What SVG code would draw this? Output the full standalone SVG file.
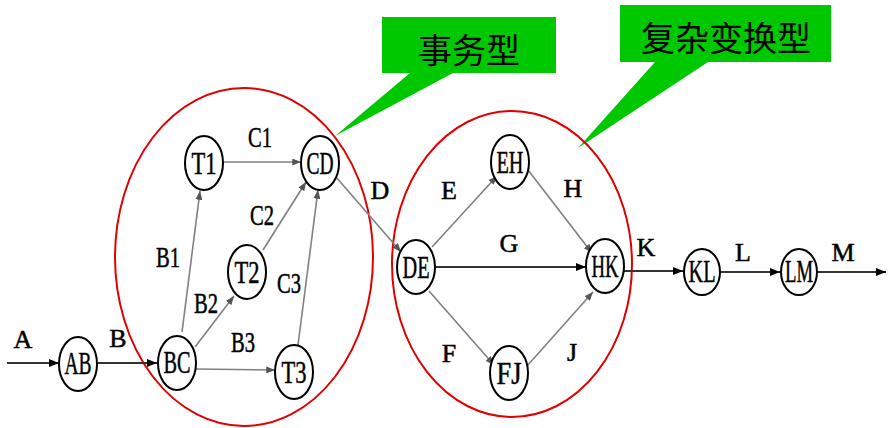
<svg xmlns="http://www.w3.org/2000/svg" width="894" height="428" viewBox="0 0 894 428">
<style>
.n ellipse{fill:#fff;stroke:#000;stroke-width:2}
.n text{font-family:"Liberation Serif",serif;font-size:32px;text-anchor:middle;fill:#000;stroke:#000;stroke-width:0.5}
.lbl{font-family:"Liberation Serif",serif;font-size:26px;text-anchor:middle;fill:#000;stroke:#000;stroke-width:0.5}
.l2{font-size:30px}
.e{stroke:#808080;stroke-width:1.6;fill:none;marker-end:url(#ag)}
.eb{stroke:#333;stroke-width:2;fill:none;marker-end:url(#ab)}
.red{fill:none;stroke:#e00000;stroke-width:2}
.call{fill:#00c800}
.ct{font-family:"Noto Sans CJK SC",serif;font-size:34px;fill:#000;text-anchor:middle}
</style>
<defs>
<marker id="ab" viewBox="0 0 10 8" refX="10" refY="4" markerWidth="11" markerHeight="8" markerUnits="userSpaceOnUse" orient="auto"><path d="M0,0L10,4L0,8z" fill="#000"/></marker>
<marker id="ag" viewBox="0 0 10 8" refX="10" refY="4" markerWidth="9" markerHeight="7" markerUnits="userSpaceOnUse" orient="auto"><path d="M0,0L10,4L0,8z" fill="#555"/></marker>
</defs>
<g id="callouts">
<path class="call" d="M382,17H556V73H453L335,136L410,73H382Z"/>
<rect class="call" x="382" y="17" width="174" height="56" rx="8"/>
<text class="ct" x="469" y="63">事务型</text>
<path class="call" d="M620,5H831V62H708L578,148L655,62H620Z"/>
<rect class="call" x="620" y="5" width="211" height="57" rx="8"/>
<text class="ct" x="726" y="51">复杂变换型</text>
</g>
<g id="groups">
<ellipse class="red" cx="244" cy="257" rx="129" ry="169"/>
<ellipse class="red" cx="512" cy="264" rx="120" ry="153"/>
</g>
<g id="connectors">
<line class="eb" x1="7" y1="363" x2="59" y2="363"/>
<line class="eb" x1="97" y1="363" x2="157" y2="363"/>
<line class="e" x1="182" y1="332" x2="200" y2="191"/>
<line class="e" x1="195" y1="347" x2="234" y2="296"/>
<line class="e" x1="196" y1="369" x2="275" y2="370"/>
<line class="e" x1="223" y1="162" x2="301" y2="162"/>
<line class="e" x1="263" y1="250" x2="306" y2="182"/>
<line class="e" x1="298" y1="345" x2="318" y2="190"/>
<line class="e" x1="336" y1="177" x2="401" y2="252" marker-end="none"/>
<line class="e" x1="432" y1="247" x2="497" y2="176"/>
<line class="eb" x1="435" y1="267" x2="586" y2="267"/>
<line class="e" x1="429" y1="291" x2="494" y2="365"/>
<line class="e" x1="528" y1="170" x2="592" y2="253"/>
<line class="e" x1="527" y1="366" x2="593" y2="292"/>
<line class="eb" x1="624" y1="271" x2="683" y2="271"/>
<line class="eb" x1="721" y1="272" x2="780" y2="272"/>
<line class="eb" x1="818" y1="272" x2="886" y2="272"/>
</g>
<g id="labels">
<text class="lbl" x="23" y="348">A</text>
<text class="lbl" x="118" y="347">B</text>
<text class="lbl l2" x="260" y="147" textLength="24" lengthAdjust="spacingAndGlyphs">C1</text>
<text class="lbl l2" x="168" y="267" textLength="24" lengthAdjust="spacingAndGlyphs">B1</text>
<text class="lbl l2" x="262" y="225" textLength="24" lengthAdjust="spacingAndGlyphs">C2</text>
<text class="lbl l2" x="206" y="313" textLength="24" lengthAdjust="spacingAndGlyphs">B2</text>
<text class="lbl l2" x="289" y="293" textLength="24" lengthAdjust="spacingAndGlyphs">C3</text>
<text class="lbl l2" x="243" y="352" textLength="24" lengthAdjust="spacingAndGlyphs">B3</text>
<text class="lbl" x="380" y="199">D</text>
<text class="lbl" x="449" y="199">E</text>
<text class="lbl" x="509" y="252">G</text>
<text class="lbl" x="573" y="197">H</text>
<text class="lbl" x="646" y="256">K</text>
<text class="lbl" x="449" y="362">F</text>
<text class="lbl" x="572" y="361">J</text>
<text class="lbl" x="743" y="261">L</text>
<text class="lbl" x="843" y="261">M</text>
</g>
<g id="AB" class="n"><ellipse cx="78" cy="364" rx="19" ry="27"/><text x="78" y="374" textLength="27" lengthAdjust="spacingAndGlyphs">AB</text></g>
<g id="BC" class="n"><ellipse cx="177" cy="363" rx="19" ry="27"/><text x="177" y="373" textLength="27" lengthAdjust="spacingAndGlyphs">BC</text></g>
<g id="T1" class="n"><ellipse cx="204" cy="163" rx="19" ry="27"/><text x="204" y="174" textLength="25" lengthAdjust="spacingAndGlyphs">T1</text></g>
<g id="CD" class="n"><ellipse cx="320" cy="163" rx="19" ry="27"/><text x="320" y="174" textLength="27" lengthAdjust="spacingAndGlyphs">CD</text></g>
<g id="T2" class="n"><ellipse cx="247" cy="272" rx="19" ry="27"/><text x="247" y="283" textLength="25" lengthAdjust="spacingAndGlyphs">T2</text></g>
<g id="T3" class="n"><ellipse cx="294" cy="372" rx="19" ry="27"/><text x="294" y="383" textLength="25" lengthAdjust="spacingAndGlyphs">T3</text></g>
<g id="DE" class="n"><ellipse cx="416" cy="267" rx="19" ry="27"/><text x="416" y="278" textLength="27" lengthAdjust="spacingAndGlyphs">DE</text></g>
<g id="EH" class="n"><ellipse cx="510" cy="162" rx="19" ry="27"/><text x="510" y="173" textLength="27" lengthAdjust="spacingAndGlyphs">EH</text></g>
<g id="HK" class="n"><ellipse cx="605" cy="266" rx="19" ry="27"/><text x="605" y="277" textLength="27" lengthAdjust="spacingAndGlyphs">HK</text></g>
<g id="FJ" class="n"><ellipse cx="509" cy="373" rx="19" ry="27"/><text x="509" y="384" textLength="25" lengthAdjust="spacingAndGlyphs">FJ</text></g>
<g id="KL" class="n"><ellipse cx="702" cy="272" rx="18" ry="23"/><text x="702" y="282" textLength="27" lengthAdjust="spacingAndGlyphs">KL</text></g>
<g id="LM" class="n"><ellipse cx="799" cy="272" rx="18" ry="23"/><text x="799" y="282" textLength="28" lengthAdjust="spacingAndGlyphs">LM</text></g>
</svg>
